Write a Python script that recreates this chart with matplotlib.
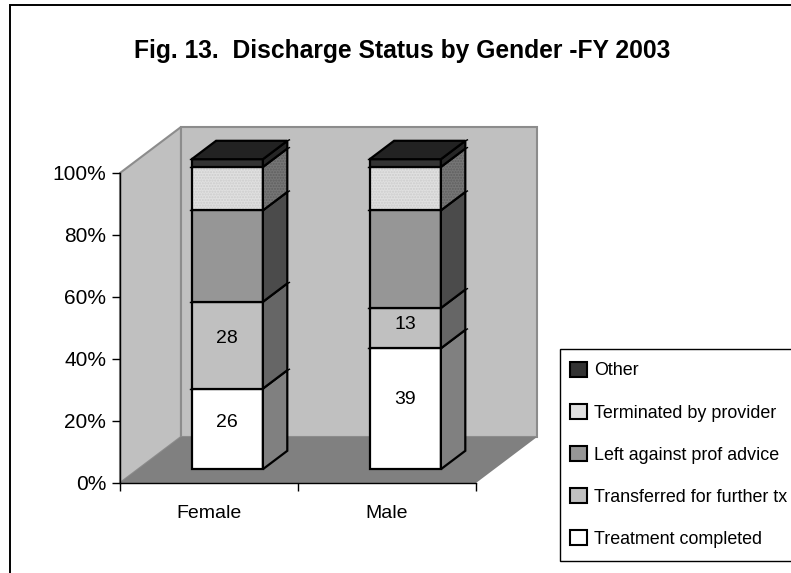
import matplotlib
matplotlib.use("Agg")
import matplotlib.pyplot as plt
from matplotlib.patches import Patch, Polygon, Rectangle

plt.rcParams["font.family"] = ["Liberation Sans", "DejaVu Sans"]

# values (percent of each gender)
genders = ["Female", "Male"]
status = [
    "Treatment completed",
    "Transferred for further tx",
    "Left against prof advice",
    "Terminated by provider",
    "Other",
]
treatment_completed = [26, 39]
transferred = [28, 13]
left_against_advice = [29.5, 31.5]
terminated = [14, 14]
other = [2.5, 2.5]
series = [treatment_completed, transferred, left_against_advice, terminated, other]
# only these two series carry data labels in the original
labelled = [0, 1]
percent_ticks = [0, 20, 40, 60, 80, 100]

front_colors = ["#ffffff", "#c0c0c0", "#969696", "#e0e0e0", "#333333"]
side_colors = ["#808080", "#666666", "#4b4b4b", "#777777", "#262626"]
hatch_colors = {3: ("#cccccc", "#5f5f5f")}
top_color = "#222222"
wall_color = "#c0c0c0"
wall_edge = "#8c8c8c"
floor_color = "#808080"

W, H = 791, 573
# 3D look: how far the back of the box sits from the front, in data units
DEPTH_X = 61 / 178
DEPTH_Y = 46 / 3.1
BAR_WIDTH = 0.4
BAR_FRONT, BAR_BACK = 0.3, 0.7


def project(x, pct, depth):
    return x + depth * DEPTH_X, pct + depth * DEPTH_Y


def face(points, color, edge="black", lw=1.6, z=3, hatch_color=None):
    if hatch_color:
        # hatch takes the edge colour, so it goes on its own patch under the outline
        ax.add_patch(Polygon(points, closed=True, facecolor=color, edgecolor=hatch_color,
                             linewidth=0, hatch="......", clip_on=False, zorder=z))
        color = "none"
    poly = Polygon(points, closed=True, facecolor=color, edgecolor=edge,
                   linewidth=lw, joinstyle="miter", clip_on=False, zorder=z)
    ax.add_patch(poly)
    return poly


fig = plt.figure(figsize=(W / 100, H / 100), dpi=100)
ax = fig.add_axes([120 / W, 1 - 483 / H, 356 / W, 310 / H])
ax.set_xlim(0, 2)
ax.set_ylim(0, 100)
ax.patch.set_visible(False)

# walls and floor
face([project(0, 0, 0), project(0, 100, 0), project(0, 100, 1), project(0, 0, 1)],
     wall_color, edge=wall_edge, lw=1.5, z=1)
face([project(0, 0, 1), project(0, 100, 1), project(2, 100, 1), project(2, 0, 1)],
     wall_color, edge=wall_edge, lw=1.5, z=1)
face([project(0, 0, 0), project(2, 0, 0), project(2, 0, 1), project(0, 0, 1)],
     floor_color, edge="none", lw=0, z=2)

# stacked 3D bars
for i, gender in enumerate(genders):
    left = i + 0.5 - BAR_WIDTH / 2
    right = i + 0.5 + BAR_WIDTH / 2
    base = 0
    for s, values in enumerate(series):
        v = values[i]
        top = base + v
        hatch = hatch_colors.get(s, (None, None))
        face([project(left, base, BAR_FRONT), project(right, base, BAR_FRONT),
              project(right, top, BAR_FRONT), project(left, top, BAR_FRONT)],
             front_colors[s], z=4 + s, hatch_color=hatch[0])
        face([project(right, base, BAR_FRONT), project(right, base, BAR_BACK),
              project(right, top, BAR_BACK), project(right, top, BAR_FRONT)],
             side_colors[s], z=4 + s, hatch_color=hatch[1])
        # small overshoot at the corners, as in the original rendering
        x0, y0 = project(left - 0.012, top, BAR_FRONT)
        x1, y1 = project(left, top, BAR_FRONT)
        ax.plot([x0, x1], [y0, y1], color="black", lw=1, clip_on=False, zorder=12)
        x0, y0 = project(right, top, BAR_BACK)
        x1, y1 = project(right + 0.012, top + 0.3, BAR_BACK)
        ax.plot([x0, x1], [y0, y1], color="black", lw=1, clip_on=False, zorder=12)
        if s in labelled:
            # labels sit a bit above the middle of the segment
            lx, ly = project(i + 0.5, base + v * 0.58, BAR_FRONT)
            ax.text(lx, ly, f"{v:g}", ha="center", va="center", fontsize=14, zorder=20)
        base = top
    face([project(left, 100, BAR_FRONT), project(right, 100, BAR_FRONT),
          project(right, 100, BAR_BACK), project(left, 100, BAR_BACK)],
         top_color, z=10)

# axes
for name in ["top", "right"]:
    ax.spines[name].set_visible(False)
for name in ["left", "bottom"]:
    ax.spines[name].set_linewidth(1)
    ax.spines[name].set_zorder(15)
ax.set_yticks(percent_ticks)
ax.set_yticklabels([f"{p}%" for p in percent_ticks], fontsize=15)
ax.set_xticks([0, 1, 2])
ax.set_xticklabels([])
ax.set_xticks([0.5, 1.5], genders, minor=True, fontsize=14)
ax.tick_params(axis="x", which="minor", length=0, pad=16)
ax.tick_params(axis="both", which="major", length=6, width=1)
ax.tick_params(axis="y", pad=4)

# outer frame and legend box run off the right edge, as in the picture
fig.add_artist(Rectangle((10 / W, -0.02), 1, 1 - 5 / H + 0.02, transform=fig.transFigure,
                         facecolor="none", edgecolor="black", linewidth=1.4))
fig.add_artist(Rectangle((560 / W, 1 - 561 / H), 1, 212 / H, transform=fig.transFigure,
                         facecolor="white", edgecolor="black", linewidth=1, zorder=5))

handles = [Patch(facecolor=front_colors[s], edgecolor="black", linewidth=1.5,
                 label=status[s]) for s in reversed(range(len(status)))]
leg = fig.legend(handles=handles, loc="upper left",
                 bbox_to_anchor=(566 / W, 1 - 358 / H), frameon=False,
                 fontsize=12.9, handlelength=0.95, handleheight=0.95,
                 handletextpad=0.4, labelspacing=1.35,
                 borderpad=0.2, borderaxespad=0)
leg.set_zorder(6)

fig.text(402 / W, 1 - 51 / H, "Fig. 13.  Discharge Status by Gender -FY 2003",
         ha="center", va="center", fontsize=17.7, fontweight="bold")

fig.savefig("out.png", dpi=100)
